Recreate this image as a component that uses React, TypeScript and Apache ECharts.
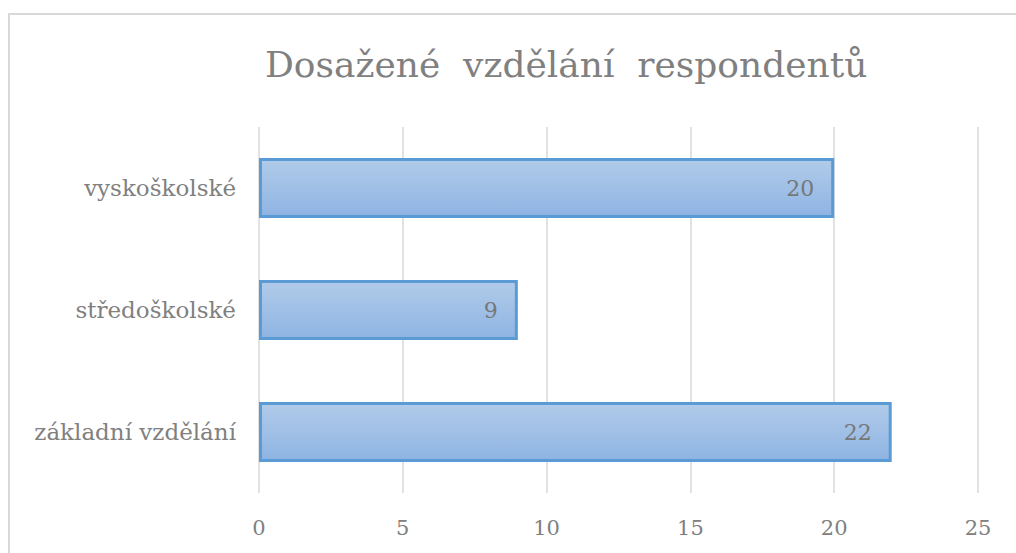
import React, { useEffect, useRef } from "react";
import * as echarts from "echarts";

const titleText = "Dosažené  vzdělání  respondentů";
const categories = ["základní vzdělání", "středoškolské", "vyskoškolské"];
const values = [22, 9, 20];
const axisMin = 0;
const axisMax = 25;
const axisStep = 5;

export default function App() {
  const ref = useRef<HTMLDivElement>(null);
  useEffect(() => {
    if (!ref.current) return;
    const chart = echarts.init(ref.current, null, { renderer: "svg" });
    const font = "DejaVu Serif, Liberation Serif, Noto Serif, serif";
    chart.setOption({
      animation: false,
      backgroundColor: "#ffffff",
      title: {
        text: titleText,
        left: 260,
        top: 41,
        textStyle: { fontFamily: font, fontSize: 36, fontWeight: "normal", color: "#808080" },
      },
      graphic: [
        {
          type: "rect",
          shape: { x: 9, y: 14, width: 1100, height: 600 },
          style: { fill: "none", stroke: "#d9d9d9", lineWidth: 2 },
          silent: true,
        },
      ],
      grid: { left: 259, right: 38, top: 127, bottom: 60, containLabel: false },
      xAxis: {
        type: "value",
        min: axisMin,
        max: axisMax,
        interval: axisStep,
        axisLine: { show: false },
        axisTick: { show: false },
        axisLabel: { fontFamily: font, fontSize: 21, color: "#808080", margin: 24 },
        splitLine: { show: true, lineStyle: { color: "#d9d9d9", width: 1.5 } },
      },
      yAxis: {
        type: "category",
        data: categories,
        axisLine: { show: false },
        axisTick: { show: false },
        axisLabel: { fontFamily: font, fontSize: 23, color: "#808080", margin: 23 },
      },
      series: [
        {
          type: "bar",
          data: values,
          barWidth: 60,
          itemStyle: {
            color: new echarts.graphic.LinearGradient(0, 0, 0, 1, [
              { offset: 0, color: "#b1cbe9" },
              { offset: 1, color: "#8eb4e3" },
            ]),
            borderColor: "#5b9bd5",
            borderWidth: 3,
          },
          label: {
            show: true,
            position: "insideRight",
            distance: 20,
            fontFamily: font,
            fontSize: 22,
            color: "#777777",
          },
        },
      ],
    });
    return () => chart.dispose();
  }, []);
  return (
    <div
      ref={ref}
      style={{ position: "absolute", left: 0, top: 0, width: 1016, height: 553 }}
    />
  );
}
